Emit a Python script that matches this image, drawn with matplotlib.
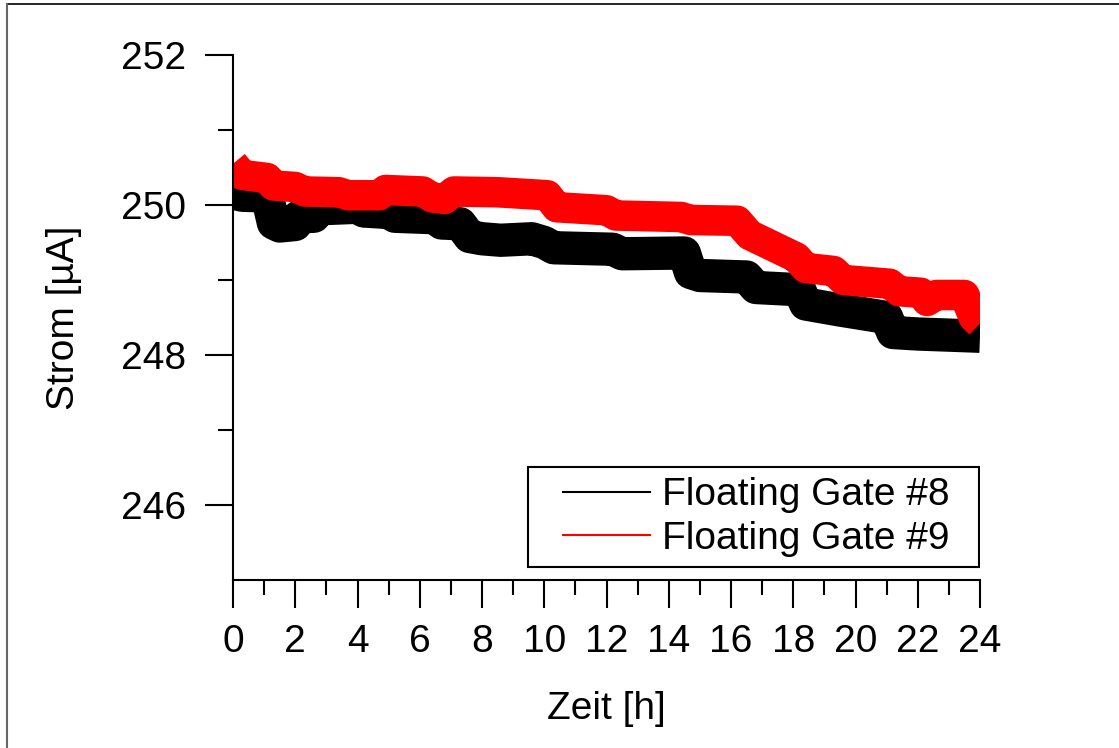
import matplotlib
matplotlib.use("Agg")
import matplotlib.pyplot as plt
from matplotlib.lines import Line2D
from matplotlib.patches import Rectangle

plt.rcParams['font.family'] = ['Liberation Sans', 'DejaVu Sans']

# Floating Gate #8 (black)
t8 = [0, 0.3, 1.1, 1.3, 1.5, 2.0, 2.1, 2.6, 2.8, 4.0, 4.2, 5.0, 5.2, 6.5, 6.7, 7.3, 7.6, 8.0,
      8.6, 9.6, 10.0, 10.3, 12.2, 12.5, 14.5, 14.7, 15.0, 16.5, 16.8, 18.2, 18.4, 19.5, 21.0,
      21.2, 22.0, 24.0]
i8 = [250.16, 250.13, 250.12, 249.76, 249.72, 249.74, 249.84, 249.85, 249.95, 249.97, 249.92,
      249.90, 249.85, 249.83, 249.76, 249.75, 249.58, 249.55, 249.53, 249.55, 249.50, 249.43,
      249.41, 249.35, 249.36, 249.10, 249.06, 249.04, 248.90, 248.87, 248.68, 248.60, 248.50,
      248.30, 248.28, 248.25]

# Floating Gate #9 (red)
t9 = [0, 0.3, 1.1, 1.3, 2.0, 2.3, 3.4, 3.7, 4.7, 4.9, 6.1, 6.4, 6.8, 7.1, 8.5, 10.1, 10.4,
      12.0, 12.3, 14.4, 14.7, 16.2, 16.6, 17.4, 18.1, 18.4, 19.3, 19.6, 21.1, 21.4, 22.1, 22.3,
      22.6, 23.5, 23.8, 24.0]
i9 = [250.55, 250.40, 250.36, 250.26, 250.24, 250.18, 250.17, 250.13, 250.13, 250.20, 250.18,
      250.10, 250.08, 250.18, 250.17, 250.13, 249.97, 249.93, 249.86, 249.84, 249.80, 249.79,
      249.60, 249.44, 249.30, 249.16, 249.12, 249.00, 248.95, 248.85, 248.83, 248.72, 248.80,
      248.80, 248.50, 248.42]

labels = ["Floating Gate #8", "Floating Gate #9"]
xticks = list(range(0, 25, 2))
yticks = [246, 248, 250, 252]

fig = plt.figure(figsize=(11.19, 7.48), dpi=100)
ax = fig.add_axes([233/1119, 1-580/748, (980-233)/1119, (580-55)/748])

ax.plot(t8, i8, color='black', lw=24, solid_joinstyle='round', solid_capstyle='butt', clip_on=True)
ax.plot(t9, i9, color='#ff0000', lw=22, solid_joinstyle='round', solid_capstyle='butt', clip_on=True)

ax.set_xlim(0, 24)
ax.set_ylim(245, 252)
ax.set_xticks(xticks)
ax.set_xticks(range(1, 24, 2), minor=True)
ax.set_yticks(yticks)
ax.set_yticks([247, 249, 251], minor=True)
for s in ['top', 'right']:
    ax.spines[s].set_visible(False)
for s in ['left', 'bottom']:
    ax.spines[s].set_linewidth(1.5)
ax.tick_params(axis='both', which='major', direction='out', length=20, width=1.5, labelsize=28)
ax.tick_params(axis='both', which='minor', direction='out', length=11, width=1.5)
ax.tick_params(axis='x', which='major', pad=12)
ax.tick_params(axis='y', which='major', pad=14)

ax.set_xlabel("Zeit [h]", fontsize=28, labelpad=22)
ax.set_ylabel("Strom [µA]", fontsize=28, labelpad=28)

handles = [Line2D([], [], color='black', lw=1.5), Line2D([], [], color='#ff0000', lw=1.5)]
leg = ax.legend(handles, labels, loc='center',
                bbox_to_anchor=((555 - 233) / 747 + (979 - 555) / 747 / 2 - 0.0145, (580 - 517) / 525),
                borderaxespad=0, fontsize=28, frameon=False,
                handlelength=2.25, handletextpad=0.3, labelspacing=0.2, borderpad=0.0)

# legend frame
ax.add_patch(Rectangle(((528 - 233) / 747, (580 - 567) / 525), (979 - 528) / 747, 100 / 525,
                       transform=ax.transAxes, fill=True, facecolor='white', edgecolor='black',
                       lw=1.5, zorder=4))
leg.set_zorder(5)

# figure border (top and left)
fig.add_artist(Line2D([7/1119, 1], [1-4/748, 1-4/748], transform=fig.transFigure, color='black', lw=1.2))
fig.add_artist(Line2D([7/1119, 7/1119], [0, 1-4/748], transform=fig.transFigure, color='#666666', lw=1.5))

fig.savefig("out.png", dpi=100)
